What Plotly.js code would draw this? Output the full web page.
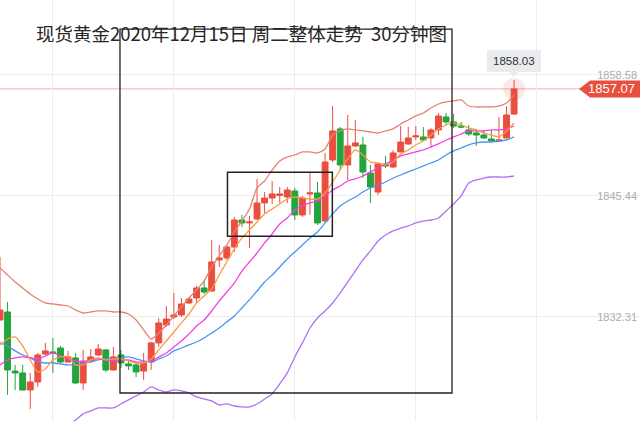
<!DOCTYPE html>
<html>
<head>
<meta charset="utf-8">
<script src="https://cdn.plot.ly/plotly-3.0.1.min.js"></script>
<style>
html,body{margin:0;padding:0;background:#fff;}
#chart{width:640px;height:421px;}
</style>
</head>
<body>
<div id="chart"></div>
<script>
// ---- Data (30-minute candles, XAU spot) ----
const opens  = [1831.97,1832.84,1826.43,1826.22,1824.37,1825.24,1828.28,1828.50,1828.93,1827.41,
                1827.85,1825.13,1827.52,1828.17,1828.72,1826.54,1828.17,1827.20,1827.09,1826.43,
                1827.41,1829.48,1831.43,1832.30,1832.52,1833.82,1834.36,1835.45,1835.12,1838.49,
                1838.71,1839.90,1842.83,1842.51,1842.94,1844.68,1845.22,1845.50,1845.33,1845.98,
                1843.38,1845.66,1845.77,1842.72,1849.35,1852.72,1848.81,1850.87,1850.98,1847.94,
                1845.87,1848.91,1848.59,1850.22,1851.09,1851.85,1851.85,1851.74,1852.61,1854.02,
                1853.48,1853.04,1852.61,1852.28,1852.06,1851.63,1851.41,1851.74,1854.34];
const highs  = [1838.82,1833.93,1827.09,1827.09,1826.22,1828.39,1829.48,1830.02,1829.15,1828.61,
                1828.39,1828.72,1828.82,1829.37,1828.82,1829.04,1828.72,1827.63,1827.41,1828.39,
                1829.58,1832.19,1833.49,1834.91,1834.36,1834.47,1835.67,1836.21,1840.66,1840.12,
                1840.12,1843.16,1843.38,1843.27,1847.29,1845.87,1847.07,1846.42,1846.42,1846.31,
                1845.44,1848.05,1846.96,1850.11,1855.21,1852.93,1854.24,1853.69,1851.85,1848.81,
                1849.02,1849.78,1850.44,1853.04,1852.93,1853.04,1852.93,1852.82,1854.45,1854.45,
                1854.34,1853.48,1853.15,1852.72,1852.61,1852.61,1854.02,1855.21,1858.03];
const lows   = [1831.90,1823.83,1824.37,1824.30,1822.31,1824.70,1828.17,1826.22,1827.20,1827.35,
                1825.02,1824.37,1827.30,1828.06,1826.33,1826.48,1826.76,1826.54,1825.78,1825.46,
                1826.54,1829.04,1831.21,1832.08,1832.30,1833.71,1833.93,1834.80,1835.01,1837.73,
                1838.49,1839.36,1842.07,1839.79,1842.83,1843.59,1844.57,1844.68,1844.68,1842.83,
                1843.16,1843.38,1842.29,1842.62,1849.13,1848.26,1847.18,1850.76,1847.39,1844.68,
                1845.55,1848.48,1848.48,1850.20,1850.98,1851.52,1851.41,1850.65,1852.06,1853.15,
                1852.82,1852.82,1851.96,1850.87,1851.63,1851.35,1851.30,1851.70,1854.24];
const closes = [1833.06,1826.54,1826.22,1824.37,1825.24,1828.17,1828.61,1828.39,1827.41,1827.96,
                1825.13,1827.52,1827.96,1828.82,1826.54,1827.96,1827.30,1826.98,1826.33,1827.30,
                1829.48,1831.65,1832.08,1832.52,1833.71,1834.25,1835.45,1835.01,1838.27,1838.71,
                1839.90,1842.83,1842.51,1842.62,1844.68,1845.22,1845.66,1845.66,1846.09,1843.38,
                1845.22,1845.77,1842.51,1849.13,1852.50,1848.81,1850.87,1851.20,1848.05,1846.42,
                1848.91,1848.70,1850.11,1851.30,1851.74,1851.96,1851.52,1852.61,1854.13,1853.48,
                1853.04,1852.93,1852.17,1852.06,1851.74,1851.41,1851.52,1854.24,1857.07];

const ma5    = [1829.26,1829.91,1830.13,1829.15,1827.63,1826.33,1826.65,1827.63,1827.96,1827.96,
                1827.09,1827.09,1827.63,1827.85,1827.63,1827.74,1827.74,1827.52,1827.30,1827.30,
                1827.74,1828.72,1829.69,1830.67,1831.65,1832.62,1833.82,1834.58,1835.34,1836.86,
                1838.27,1839.68,1840.88,1841.75,1842.62,1843.49,1844.03,1844.57,1845.11,1845.33,
                1845.22,1845.11,1845.11,1845.77,1846.96,1848.26,1849.46,1850.44,1849.89,1849.13,
                1849.02,1848.81,1849.13,1850.00,1850.44,1850.98,1851.41,1852.06,1852.72,1853.15,
                1853.37,1853.15,1852.82,1852.61,1852.28,1852.06,1851.85,1852.50,1853.37];
const ma10   = [1827.09,1827.63,1827.85,1827.96,1827.85,1827.74,1828.06,1828.39,1828.06,1827.74,
                1827.52,1827.41,1827.63,1827.74,1827.63,1827.52,1827.63,1827.63,1827.41,1827.41,
                1827.52,1827.96,1828.39,1829.04,1829.69,1830.45,1831.32,1831.97,1832.95,1834.04,
                1835.01,1835.99,1837.29,1838.27,1839.25,1840.34,1841.31,1842.40,1843.05,1843.92,
                1844.35,1844.68,1844.90,1845.44,1846.09,1846.53,1847.07,1847.29,1847.61,1848.05,
                1848.48,1848.91,1849.35,1849.78,1850.00,1850.22,1850.44,1850.76,1851.09,1851.52,
                1851.85,1852.17,1852.50,1852.50,1852.50,1852.61,1852.61,1852.72,1853.04];
const bollMid = [1829.48,1829.15,1828.61,1828.17,1827.85,1827.41,1827.30,1827.30,1827.20,1827.09,
                1827.09,1827.30,1827.41,1827.63,1827.74,1827.74,1827.85,1827.96,1827.74,1827.52,
                1827.41,1827.74,1828.06,1828.61,1828.93,1829.26,1829.58,1830.02,1830.56,1831.10,
                1831.76,1832.41,1833.28,1834.15,1835.12,1836.10,1836.86,1837.73,1838.60,1839.36,
                1840.12,1840.88,1841.53,1842.51,1843.49,1844.35,1844.90,1845.33,1845.87,1846.31,
                1846.63,1846.96,1847.39,1847.72,1848.05,1848.37,1848.70,1849.02,1849.35,1849.89,
                1850.33,1850.65,1850.98,1851.20,1851.30,1851.30,1851.41,1851.52,1851.85];
const bollUp = [1837.62,1836.86,1836.10,1835.45,1834.80,1834.25,1833.82,1833.71,1833.60,1833.49,
                1833.06,1832.73,1832.84,1832.95,1832.95,1832.84,1832.84,1832.62,1831.97,1830.89,
                1829.91,1830.56,1831.43,1832.41,1833.39,1834.36,1835.23,1836.21,1837.73,1838.92,
                1840.12,1841.53,1842.72,1844.03,1846.31,1847.07,1848.26,1849.24,1849.68,1849.89,
                1850.22,1850.22,1850.11,1850.54,1852.06,1852.50,1852.72,1852.61,1852.50,1852.39,
                1852.28,1852.50,1852.72,1853.26,1853.69,1854.13,1854.45,1855.00,1855.43,1855.65,
                1855.76,1855.87,1855.21,1855.11,1855.11,1855.11,1855.21,1855.54,1856.41];
const bollLow = [null,null,null,null,null,null,null,null,1819.81,1820.57,
                1821.11,1821.77,1822.09,1822.42,1822.42,1822.42,1822.85,1823.29,1823.72,1824.15,
                1824.70,1824.37,1824.15,1824.37,1824.26,1824.05,1823.61,1823.39,1823.18,1822.74,
                1822.85,1822.63,1822.53,1822.53,1822.85,1823.39,1823.94,1825.02,1826.22,1827.96,
                1829.48,1831.10,1832.19,1832.95,1833.82,1834.91,1836.10,1837.29,1838.49,1839.47,
                1840.55,1841.20,1841.64,1841.96,1842.18,1842.51,1842.72,1842.83,1843.05,1843.81,
                1844.57,1845.44,1846.85,1847.18,1847.39,1847.50,1847.50,1847.50,1847.61];

const axisTicks = [1832.31, 1845.44, 1858.58];
const lastPrice = 1857.07;
const lastHigh = 1858.03;
const titleText = "现货黄金2020年12月15日 周二整体走势  30分钟图";

// ---- Build ----
const idx = closes.map((_, i) => i);
const last = idx[idx.length - 1];
const RED = "#ea4e3f", GREEN = "#23a43c";

const lineTrace = (y, color, w) => ({
  type: "scatter", mode: "lines", x: idx, y: y,
  line: {color: color, width: w || 1.3, shape: "spline", smoothing: 0.6},
  hoverinfo: "skip", connectgaps: false
});

const traces = [
  {
    type: "candlestick", x: idx, open: opens, high: highs, low: lows, close: closes,
    increasing: {line: {color: RED, width: 1}, fillcolor: RED},
    decreasing: {line: {color: GREEN, width: 1}, fillcolor: GREEN},
    whiskerwidth: 0, hoverinfo: "skip"
  },
  lineTrace(bollUp, "#e38472"),
  lineTrace(bollLow, "#ad72f4"),
  lineTrace(bollMid, "#4b94f2"),
  lineTrace(ma10, "#f53fe6"),
  lineTrace(ma5, "#fb9a40"),
  {
    type: "scatter", mode: "markers", x: [last], y: [lastPrice],
    marker: {size: 22, color: "rgba(234,78,63,0.13)"}, hoverinfo: "skip"
  }
];

const W = 640;
const px = v => v / W;
const yUnit = (1866.725 - 1821.0) / 421; // price per pixel

const layout = {
  width: 640, height: 421,
  margin: {l: 0, r: 0, t: 0, b: 0},
  paper_bgcolor: "#fff", plot_bgcolor: "#fff",
  showlegend: false, hovermode: false,
  boxgap: 0.22, boxgroupgap: 0,
  xaxis: {
    range: [0, 640 / 7.56], tickmode: "linear", tick0: 7, dtick: 16,
    showticklabels: false, gridcolor: "#ececec", gridwidth: 1,
    zeroline: false, showline: false, rangeslider: {visible: false}, fixedrange: true
  },
  yaxis: {
    range: [1821.0, 1866.725], side: "right",
    tickmode: "array", tickvals: axisTicks, ticktext: axisTicks.map(v => v.toFixed(2)),
    ticklabelposition: "inside", ticks: "",
    tickfont: {family: "Liberation Sans, Arial, sans-serif", size: 11, color: "#adadad"},
    gridcolor: "#ececec", gridwidth: 1, zeroline: false, showline: false, fixedrange: true
  },
  shapes: [
    {type: "line", xref: "paper", yref: "y", x0: 0, x1: 1, y0: lastPrice, y1: lastPrice,
     line: {color: "rgba(234,78,63,0.45)", width: 1}, layer: "below"},
    {type: "rect", xref: "x", yref: "y", x0: 15.87, x1: 59.79, y0: 1824.04, y1: 1863.57,
     line: {color: "#222", width: 1.3}},
    {type: "rect", xref: "x", yref: "y", x0: 30.09, x1: 43.96, y0: 1841.06, y1: 1848.01,
     line: {color: "#222", width: 1.5}},
    // price tag
    {type: "path", xref: "paper", yref: "y",
     path: `M ${px(579)},${lastPrice} L ${px(590)},${lastPrice + 8.5 * yUnit} L 1,${lastPrice + 8.5 * yUnit} L 1,${lastPrice - 8.5 * yUnit} L ${px(590)},${lastPrice - 8.5 * yUnit} Z`,
     fillcolor: RED, line: {width: 0}},
    // tooltip box
    {type: "rect", xref: "paper", yref: "y", x0: px(487), x1: px(541),
     y0: lastHigh + 8 * yUnit, y1: lastHigh + 30 * yUnit,
     fillcolor: "#e9ebee", line: {width: 0}},
    {type: "path", xref: "paper", yref: "y",
     path: `M ${px(509)},${lastHigh + 8 * yUnit} L ${px(519)},${lastHigh + 8 * yUnit} L ${px(514)},${lastHigh + 3 * yUnit} Z`,
     fillcolor: "#e9ebee", line: {width: 0}}
  ],
  annotations: [
    {xref: "paper", yref: "paper", x: px(34), y: 1 - 33 / 421, xanchor: "left", yanchor: "middle",
     text: titleText, showarrow: false,
     font: {family: "Noto Sans CJK SC, sans-serif", size: 18.5, color: "#262626"}},
    {xref: "paper", yref: "y", x: px(611), y: lastPrice, xanchor: "center", yanchor: "middle",
     text: lastPrice.toFixed(2), showarrow: false,
     font: {family: "Liberation Sans, Arial, sans-serif", size: 13, color: "#fff"}},
    {xref: "paper", yref: "y", x: px(514), y: lastHigh + 19 * yUnit, xanchor: "center", yanchor: "middle",
     text: lastHigh.toFixed(2), showarrow: false,
     font: {family: "Liberation Sans, Arial, sans-serif", size: 11.5, color: "#333"}}
  ]
};

Plotly.newPlot("chart", traces, layout, {displayModeBar: false, staticPlot: true});
</script>
</body>
</html>
